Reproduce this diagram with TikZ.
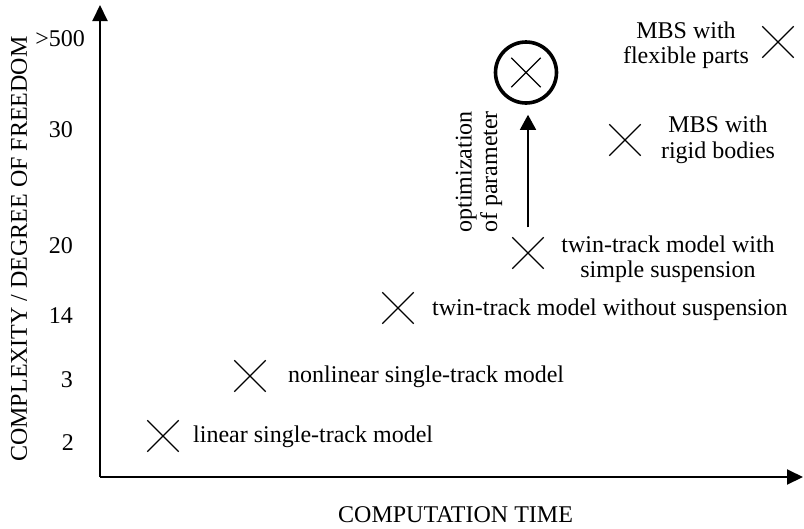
\documentclass[tikz,border=0pt]{standalone}
\usepackage{fontspec}
\setmainfont{Liberation Serif}
\usetikzlibrary{arrows.meta,shapes.misc}
\begin{document}
\begin{tikzpicture}[x=1pt,y=-1pt,
  font=\fontsize{24}{25.5}\selectfont,
  axisline/.style={line width=2pt,-{Triangle[length=16pt,width=15pt]}},
  mark x/.style={cross out,draw,line width=1.4pt,minimum size=30pt,inner sep=0pt},
  lbl/.style={inner sep=0pt,anchor=base west},
  tick/.style={inner sep=0pt,anchor=base east},
  two/.style={inner sep=0pt,align=center},
  optarrow/.style={line width=1.5pt,-{Triangle[length=15pt,width=16pt]}}]
\useasboundingbox (0,0) rectangle (804,528);

% axes
\coordinate (O) at (100,477);
\coordinate (ytop) at (100,5);
\coordinate (xend) at (803,477);
\draw[axisline] (O) -- (ytop);
\draw[axisline] (O) -- (xend);

\node[rotate=90,inner sep=0pt] (ylab) at (19,249) {COMPLEXITY / DEGREE OF FREEDOM};
\node[inner sep=0pt,anchor=base west] (xlab) at (338,522) {COMPUTATION TIME};

% tick values
\node[tick] (t500) at (85,46) {>500};
\node[tick] (t30) at (73,137) {30};
\node[tick] (t20) at (73,253) {20};
\node[tick] (t14) at (73,323) {14};
\node[tick] (t3) at (73,387) {3};
\node[tick] (t2) at (74,450) {2};

% models
\node[mark x] (lin) at (163,436) {};
\node[lbl] (linL) at (193,442) {linear single-track model};

\node[mark x] (nlin) at (250,376) {};
\node[lbl] (nlinL) at (288,382) {nonlinear single-track model};

\node[mark x] (twA) at (398,308) {};
\node[lbl] (twAL) at (432,315) {twin-track model without suspension};

\node[mark x] (twB) at (528,253) {};
\node[two] (twBL) at (668,259) {twin-track model with\\simple suspension};

\node[mark x] (rig) at (625,140) {};
\node[two] (rigL) at (718,140) {MBS with\\rigid bodies};

\node[mark x] (flex) at (778,42) {};
\node[two] (flexL) at (686,45) {MBS with\\flexible parts};

% optimized model
\node[circle,draw,line width=3.6pt,minimum size=61pt,inner sep=0pt] (opt) at (526,72.5) {};
\node[mark x,minimum size=28pt] (optx) at (526,72.5) {};

\draw[optarrow] ([yshift=10pt]twB.north) -- ([yshift=-10pt]twB.north |- opt.south);
\node[two,rotate=90] (optL) at (479,172) {optimization\\of parameter};
\end{tikzpicture}
\end{document}
